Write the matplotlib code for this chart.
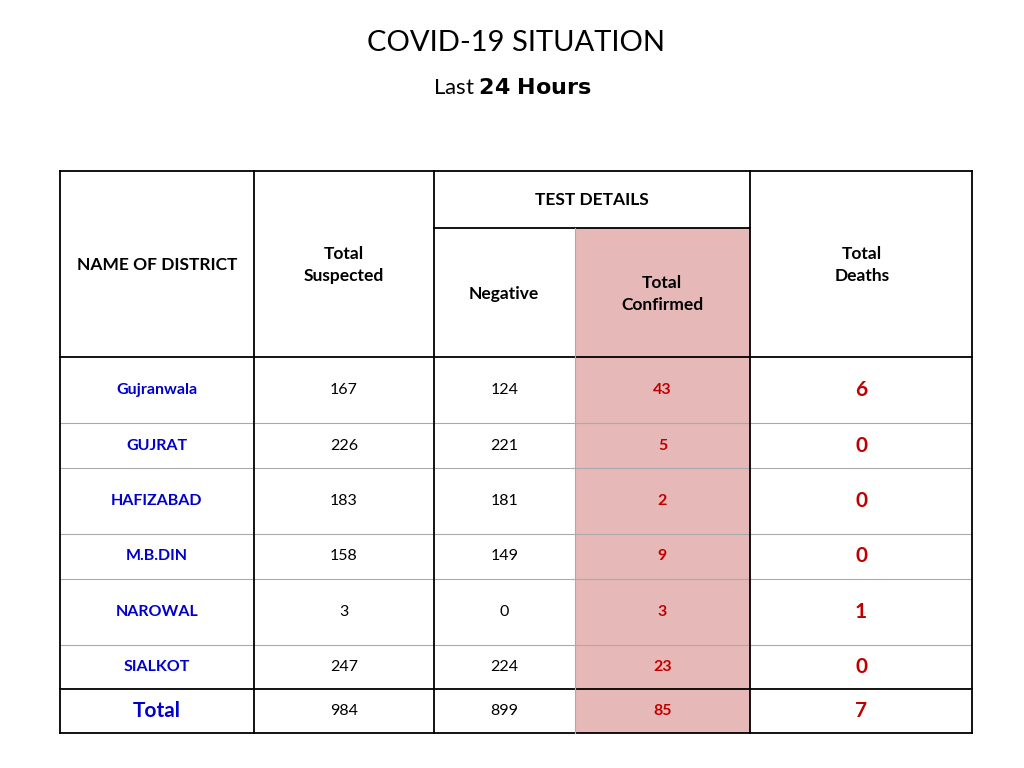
import matplotlib.pyplot as plt
from matplotlib.patches import Rectangle

plt.rcParams["font.family"] = "Lato"

districts = ["Gujranwala", "GUJRAT", "HAFIZABAD", "M.B.DIN", "NAROWAL", "SIALKOT"]
suspected = [167, 226, 183, 158, 3, 247]
negative = [124, 221, 181, 149, 0, 224]
confirmed = [43, 5, 2, 9, 3, 23]
deaths = [6, 0, 0, 0, 1, 0]
totals = [984, 899, 85, 7]

col_x = [60, 254, 434, 575, 750, 972]
row_y = [357, 423, 468, 534, 579, 645, 689, 733]
top, sub = 171, 228

BLUE = "#0000CC"
RED = "#C00000"

fig = plt.figure(figsize=(10.24, 7.68), dpi=100)
ax = fig.add_axes([0, 0, 1, 1])
ax.set_xlim(0, 1024)
ax.set_ylim(768, 0)
ax.axis("off")

ax.text(516, 43, "COVID-19 SITUATION", ha="center", va="center", fontsize=21)
ax.text(512, 88, "Last $\\bf{24\\ Hours}$", ha="center", va="center", fontsize=16)

ax.add_patch(Rectangle((col_x[3], sub), col_x[4] - col_x[3], row_y[-1] - sub,
                       facecolor="#E6B9B8", edgecolor="none"))

# horizontal lines
for y in row_y[1:-1]:
    lw, c = (1.3, "black") if y == row_y[6] else (0.8, "#aaaaaa")
    ax.plot([col_x[0], col_x[-1]], [y, y], color=c, lw=lw)
ax.plot([col_x[0], col_x[-1]], [row_y[0]] * 2, color="black", lw=1.3)
ax.plot([col_x[0], col_x[-1]], [top] * 2, color="black", lw=1.3)
ax.plot([col_x[0], col_x[-1]], [row_y[-1]] * 2, color="black", lw=1.3)
ax.plot([col_x[2], col_x[4]], [sub, sub], color="black", lw=1.3)
# vertical lines
for i, x in enumerate(col_x):
    if i == 3:
        ax.plot([x, x], [sub, row_y[-1]], color="#aaaaaa", lw=0.8)
    else:
        ax.plot([x, x], [top, row_y[-1]], color="black", lw=1.3)

hs = dict(ha="center", va="center", fontsize=12.5, fontweight="bold", linespacing=1.4)
ax.text(157, 265, "NAME OF DISTRICT", **hs)
ax.text(344, 265, "Total\nSuspected", **hs)
ax.text(592, 200, "TEST DETAILS", **hs)
ax.text(504, 294, "Negative", **hs)
ax.text(662, 294, "Total\nConfirmed", **hs)
ax.text(862, 265, "Total\nDeaths", **hs)

cx = [(col_x[i] + col_x[i + 1]) / 2 for i in range(5)]
for i, name in enumerate(districts):
    yc = (row_y[i] + row_y[i + 1]) / 2
    ax.text(cx[0], yc, name, ha="center", va="center", fontsize=11.5, color=BLUE, fontweight="bold")
    ax.text(cx[1], yc, str(suspected[i]), ha="center", va="center", fontsize=11.5)
    ax.text(cx[2], yc, str(negative[i]), ha="center", va="center", fontsize=11.5)
    ax.text(cx[3], yc, str(confirmed[i]), ha="center", va="center", fontsize=11.5, color=RED, fontweight="bold")
    ax.text(cx[4], yc, str(deaths[i]), ha="center", va="center", fontsize=15, color=RED, fontweight="bold")

yc = (row_y[6] + row_y[7]) / 2
ax.text(cx[0], yc, "Total", ha="center", va="center", fontsize=15, color=BLUE, fontweight="bold")
ax.text(cx[1], yc, str(totals[0]), ha="center", va="center", fontsize=11.5)
ax.text(cx[2], yc, str(totals[1]), ha="center", va="center", fontsize=11.5)
ax.text(cx[3], yc, str(totals[2]), ha="center", va="center", fontsize=11.5, color=RED, fontweight="bold")
ax.text(cx[4], yc, str(totals[3]), ha="center", va="center", fontsize=15, color=RED, fontweight="bold")

fig.savefig("out.png", dpi=100)
